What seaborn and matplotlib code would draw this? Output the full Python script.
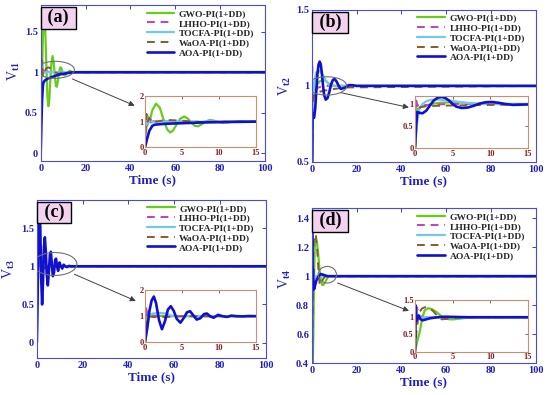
import matplotlib
matplotlib.use('Agg')
import matplotlib.pyplot as plt
import seaborn as sns
import pandas as pd
from matplotlib.patches import Ellipse
from matplotlib.ticker import FuncFormatter

# --- DATA ---
# Panel (a) V_t1
a_gwo_t = [0, 0.3, 0.6, 1.0, 1.5, 2.0, 2.5, 3.0, 3.4, 3.8, 4.3, 4.8, 5.3, 5.8, 6.3, 6.8, 7.2, 7.7, 8.2, 8.7, 9.2, 9.8, 10.5, 11.2, 12, 13, 14, 15, 20, 100]
a_gwo_v = [0, 1.25, 1.0, 1.45, 1.70, 1.55, 1.1, 0.7, 0.58, 0.65, 0.9, 1.12, 1.2, 1.12, 0.95, 0.83, 0.82, 0.9, 1.0, 1.06, 1.05, 1.0, 0.96, 0.97, 1.0, 1.02, 1.0, 1.0, 1.0, 1.0]
a_lhho_t = [0, 0.15, 0.3, 0.5, 0.8, 1.2, 2, 3, 4, 6, 8, 15, 100]
a_lhho_v = [0, 1.3, 0.85, 1.1, 0.97, 1.02, 1.0, 1.01, 1.0, 1.0, 1.0, 1.0, 1.0]
a_tocfa_t = [0, 0.2, 0.4, 0.7, 1.0, 1.5, 2.5, 4, 15, 100]
a_tocfa_v = [0, 1.2, 0.92, 1.12, 0.98, 1.0, 1.0, 1.0, 1.0, 1.0]
a_waoa_t = [0, 0.2, 0.35, 0.6, 1.0, 1.5, 2.5, 3.5, 5, 6.5, 8, 10, 15, 100]
a_waoa_v = [0, 1.3, 1.0, 1.15, 0.95, 1.0, 1.05, 1.06, 1.04, 1.0, 0.98, 1.0, 1.0, 1.0]
a_aoa_t = [0, 0.3, 0.6, 1.0, 1.3, 2, 3, 4, 5, 6, 8, 10, 12, 15, 20, 100]
a_aoa_v = [0, 0.35, 0.65, 0.84, 0.88, 0.9, 0.92, 0.93, 0.94, 0.95, 0.97, 0.98, 0.99, 1.0, 1.0, 1.0]

# Panel (b) V_t2
b_gwo_t = [0, 0.2, 0.4, 0.8, 1.5, 2.5, 3.5, 5, 6.5, 8, 10, 12, 15, 100]
b_gwo_v = [0, 0.9, 0.88, 0.93, 0.97, 1.01, 1.03, 1.04, 1.03, 1.01, 1.0, 1.0, 1.0, 1.0]
b_lhho_t = [0, 0.15, 0.3, 0.5, 1, 2, 3, 5, 8, 15, 100]
b_lhho_v = [0, 1.15, 0.95, 1.0, 0.97, 0.98, 0.99, 1.0, 1.0, 1.0, 1.0]
b_tocfa_t = [0, 0.3, 0.6, 1.0, 1.5, 2.0, 3, 4, 5, 6, 7, 8, 10, 15, 100]
b_tocfa_v = [0, 0.6, 0.9, 1.0, 1.06, 1.09, 1.1, 1.09, 1.07, 1.04, 1.02, 1.0, 1.0, 1.0, 1.0]
b_waoa_t = [0, 0.3, 0.7, 1.5, 3, 6, 10, 15, 100]
b_waoa_v = [0, 0.85, 0.93, 0.95, 0.96, 0.97, 0.98, 0.99, 1.0]
b_aoa_t = [0, 0.15, 0.3, 0.6, 1.0, 1.5, 2.0, 2.5, 3.0, 3.5, 4.0, 4.5, 5.0, 5.5, 6.2, 7.0, 7.8, 8.6, 9.4, 10.2, 11.0, 12.0, 13.0, 14.0, 15, 16.5, 18, 20, 100]
b_aoa_v = [0, 0.5, 0.82, 0.8, 0.79, 0.85, 0.97, 1.08, 1.14, 1.16, 1.14, 1.08, 1.0, 0.94, 0.91, 0.92, 0.96, 1.01, 1.04, 1.045, 1.03, 1.0, 0.98, 0.985, 0.99, 1.005, 1.005, 1.0, 1.0]

# Panel (c) V_t3
c_gwo_t = [0, 0.2, 0.4, 0.8, 1.5, 3, 5, 15, 100]
c_gwo_v = [0, 1.2, 1.1, 1.05, 1.02, 1.0, 1.0, 1.0, 1.0]
c_lhho_t = [0, 0.15, 0.3, 0.6, 1, 2, 15, 100]
c_lhho_v = [0, 1.42, 0.95, 1.05, 1.0, 1.0, 1.0, 1.0]
c_tocfa_t = [0, 0.3, 0.6, 1.0, 2, 3, 3.5, 5, 15, 100]
c_tocfa_v = [0, 0.5, 1.0, 1.1, 1.12, 1.1, 1.02, 1.0, 1.0, 1.0]
c_waoa_t = [0, 0.2, 0.5, 1, 2, 3, 5, 15, 100]
c_waoa_v = [0, 0.9, 1.0, 0.97, 0.96, 0.97, 1.0, 1.0, 1.0]
c_aoa_t = [0, 0.3, 0.6, 0.9, 1.2, 1.5, 1.9, 2.3, 2.7, 3.1, 3.5, 3.9, 4.3, 4.8, 5.3, 5.7, 6.1, 6.5, 7.0, 7.5, 8.0, 8.4, 8.8, 9.3, 9.9, 10.5, 11.1, 11.7, 12.4, 13.2, 14, 15, 20, 100]
c_aoa_v = [0, 0.55, 1.2, 1.6, 1.75, 1.5, 0.85, 0.5, 0.8, 1.25, 1.38, 1.2, 0.9, 0.75, 0.95, 1.15, 1.19, 1.05, 0.87, 0.92, 1.08, 1.1, 1.0, 0.94, 1.05, 1.0, 0.97, 1.02, 1.0, 0.99, 1.005, 1.0, 1.0, 1.0]

# Panel (d) V_t4
d_gwo_t = [0, 0.3, 0.6, 1.0, 1.3, 1.7, 2.2, 2.8, 3.4, 4.0, 4.6, 5.2, 6, 7, 8, 10, 15, 100]
d_gwo_v = [0, 0.3, 0.55, 1.0, 1.2, 1.26, 1.24, 1.16, 1.05, 0.97, 0.94, 0.94, 0.96, 0.99, 1.0, 1.0, 1.0, 1.0]
d_lhho_t = [0, 0.2, 0.4, 0.7, 1.0, 1.5, 2.5, 4, 6, 15, 100]
d_lhho_v = [0, 1.3, 1.2, 1.05, 0.98, 1.0, 1.0, 1.0, 1.0, 1.0, 1.0]
d_tocfa_t = [0, 0.15, 0.3, 0.6, 1.0, 1.5, 2.5, 4, 15, 100]
d_tocfa_v = [0, 1.25, 1.1, 1.0, 0.98, 1.0, 1.0, 1.0, 1.0, 1.0]
d_waoa_t = [0, 0.2, 0.5, 0.9, 1.3, 1.8, 2.4, 3.0, 3.5, 4.2, 5, 6, 8, 15, 100]
d_waoa_v = [0, 0.6, 1.1, 1.25, 1.29, 1.28, 1.18, 1.03, 0.94, 0.95, 0.98, 1.0, 1.0, 1.0, 1.0]
d_aoa_t = [0, 0.1, 0.2, 0.35, 0.5, 0.7, 1.0, 1.5, 2, 3, 4, 5, 7, 10, 15, 100]
d_aoa_v = [0, 1.34, 0.9, 1.0, 1.05, 0.95, 0.91, 0.94, 0.97, 1.0, 1.015, 1.01, 1.0, 1.0, 1.0, 1.0]

nama_metode = ['GWO-PI(1+DD)', 'LHHO-PI(1+DD)', 'TOCFA-PI(1+DD)', 'WaOA-PI(1+DD)', 'AOA-PI(1+DD)']
huruf_panel = ['(a)', '(b)', '(c)', '(d)']
label_y = ['V$_{t1}$', 'V$_{t2}$', 'V$_{t3}$', 'V$_{t4}$']

data_panel = [
    [(a_gwo_t, a_gwo_v), (a_lhho_t, a_lhho_v), (a_tocfa_t, a_tocfa_v), (a_waoa_t, a_waoa_v), (a_aoa_t, a_aoa_v)],
    [(b_gwo_t, b_gwo_v), (b_lhho_t, b_lhho_v), (b_tocfa_t, b_tocfa_v), (b_waoa_t, b_waoa_v), (b_aoa_t, b_aoa_v)],
    [(c_gwo_t, c_gwo_v), (c_lhho_t, c_lhho_v), (c_tocfa_t, c_tocfa_v), (c_waoa_t, c_waoa_v), (c_aoa_t, c_aoa_v)],
    [(d_gwo_t, d_gwo_v), (d_lhho_t, d_lhho_v), (d_tocfa_t, d_tocfa_v), (d_waoa_t, d_waoa_v), (d_aoa_t, d_aoa_v)],
]

# --- GAYA ---
warna = ['#66cc1a', '#c040c0', '#70c8f0', '#8b5a2b', '#1010d0']
gaya_garis = ['-', (0, (4, 3)), '-', (0, (4, 3)), '-']
tebal = [1.6, 1.4, 1.6, 1.4, 1.9]

sns.set_theme(style='white')
plt.rcParams['font.family'] = ['Liberation Serif', 'DejaVu Serif']
plt.rcParams['font.weight'] = 'bold'
plt.rcParams['mathtext.fontset'] = 'custom'
plt.rcParams['mathtext.rm'] = 'Liberation Serif:bold'
plt.rcParams['mathtext.it'] = 'Liberation Serif:bold'
plt.rcParams['mathtext.bf'] = 'Liberation Serif:bold'
plt.rcParams['mathtext.default'] = 'bf'

BIRU = '#2020c0'
SPINE_BIRU = '#4a4ae0'
MERAH = '#7f1f1f'
SPINE_INSET = '#c89070'

# posisi (kiri, bawah, lebar, tinggi) dalam fraksi figure
posisi_utama = [[0.074, 0.592, 0.408, 0.395], [0.567, 0.590, 0.407, 0.385],
                [0.067, 0.094, 0.416, 0.400], [0.567, 0.081, 0.407, 0.392]]
posisi_inset = [[0.2636, 0.627, 0.2013, 0.130], [0.7545, 0.6245, 0.2055, 0.1324],
                [0.2636, 0.1334, 0.2013, 0.1324], [0.7545, 0.1096, 0.2055, 0.1309]]
batas_y = [(-0.1, 1.83), (0.5, 1.5), (-0.2, 1.87), (0.4, 1.47)]
tick_y = [[0, 0.5, 1, 1.5], [0.5, 1, 1.5], [0, 0.5, 1, 1.5], [0.4, 0.6, 0.8, 1, 1.2, 1.4]]
batas_y_inset = [(0, 2), (0, 1.18), (0, 2), (0, 1.5)]
tick_y_inset = [[0, 1, 2], [0, 0.5, 1], [0, 1, 2], [0, 0.5, 1, 1.5]]
elips = [((6.5, 1.03), 17, 0.21), ((6.7, 1.0), 17.8, 0.12), ((7.9, 1.03), 19.2, 0.30), ((6.9, 1.01), 8.2, 0.115)]
panah_awal = [(13, 0.93), (11.6, 0.96), (15.3, 0.91), (10.3, 0.96)]
panah_akhir = [(-0.07, 0.79), (-0.03, 0.77), (-0.06, 0.77), (-0.03, 0.77)]
label_y_pos = [0.58, 0.5, 0.56, 0.54]

fmt = FuncFormatter(lambda v, p: f'{v:g}')

fig = plt.figure(figsize=(5.5, 3.95), dpi=100)

for i in range(4):
    ax = fig.add_axes(posisi_utama[i])
    axins = fig.add_axes(posisi_inset[i])

    for j, (tt, vv) in enumerate(data_panel[i]):
        df = pd.DataFrame({'t': tt, 'v': vv})
        for sumbu in (ax, axins):
            sns.lineplot(data=df, x='t', y='v', ax=sumbu, color=warna[j], linestyle=gaya_garis[j],
                         linewidth=tebal[j], estimator=None, sort=False, label=nama_metode[j] if sumbu is ax else None,
                         legend=False)

    # sumbu utama
    ax.set_xlim(0, 100)
    ax.set_ylim(*batas_y[i])
    ax.set_xticks([0, 20, 40, 60, 80, 100])
    ax.set_yticks(tick_y[i])
    ax.xaxis.set_major_formatter(fmt)
    ax.yaxis.set_major_formatter(fmt)
    ax.tick_params(direction='in', top=True, right=True, length=3, width=0.6,
                   labelsize=7.5, colors=BIRU, pad=2)
    for s in ax.spines.values():
        s.set_color(SPINE_BIRU)
        s.set_linewidth(0.8)
    ax.set_xlabel('Time (s)', fontsize=9.5, fontweight='bold', color=BIRU, labelpad=1)
    ax.set_ylabel(label_y[i], fontsize=10, color=BIRU, labelpad=4)
    ax.yaxis.set_label_coords(-0.085, label_y_pos[i])

    leg = ax.legend(loc='upper right', bbox_to_anchor=(0.96, 0.985), frameon=False, fontsize=6.8,
                    handlelength=2.9, labelspacing=0.12, handletextpad=0.5, borderpad=0.2, borderaxespad=0)
    for txt in leg.get_texts():
        txt.set_fontweight('bold')

    # kotak huruf panel
    ax.text(0.012, 0.975, ' ' + huruf_panel[i] + ' ', transform=ax.transAxes, ha='left', va='top',
            fontsize=13, fontweight='bold', color='black',
            bbox=dict(boxstyle='square,pad=0.12', facecolor='#f2d2ee', edgecolor='black', linewidth=1.0))

    # elips dan panah
    (cx, cy), lw_, lh_ = elips[i]
    ax.add_patch(Ellipse((cx, cy), lw_, lh_, fill=False, edgecolor='#707070', linewidth=0.8, zorder=5))
    ax.annotate('', xy=panah_akhir[i], xycoords=axins.transAxes,
                xytext=panah_awal[i], textcoords='data',
                arrowprops=dict(arrowstyle='-|>', color='#404040', lw=0.7, mutation_scale=8))

    # inset
    axins.set_xlim(0, 15)
    axins.set_ylim(*batas_y_inset[i])
    axins.set_xticks([0, 5, 10, 15])
    axins.set_yticks(tick_y_inset[i])
    axins.xaxis.set_major_formatter(fmt)
    axins.yaxis.set_major_formatter(fmt)
    axins.tick_params(direction='in', top=True, right=True, length=2, width=0.5,
                      labelsize=6, colors=MERAH, pad=1)
    axins.set_xlabel('')
    axins.set_ylabel('')
    for s in axins.spines.values():
        s.set_color(SPINE_INSET)
        s.set_linewidth(0.8)

fig.savefig('out.png', dpi=100)
print('selesai: out.png')
